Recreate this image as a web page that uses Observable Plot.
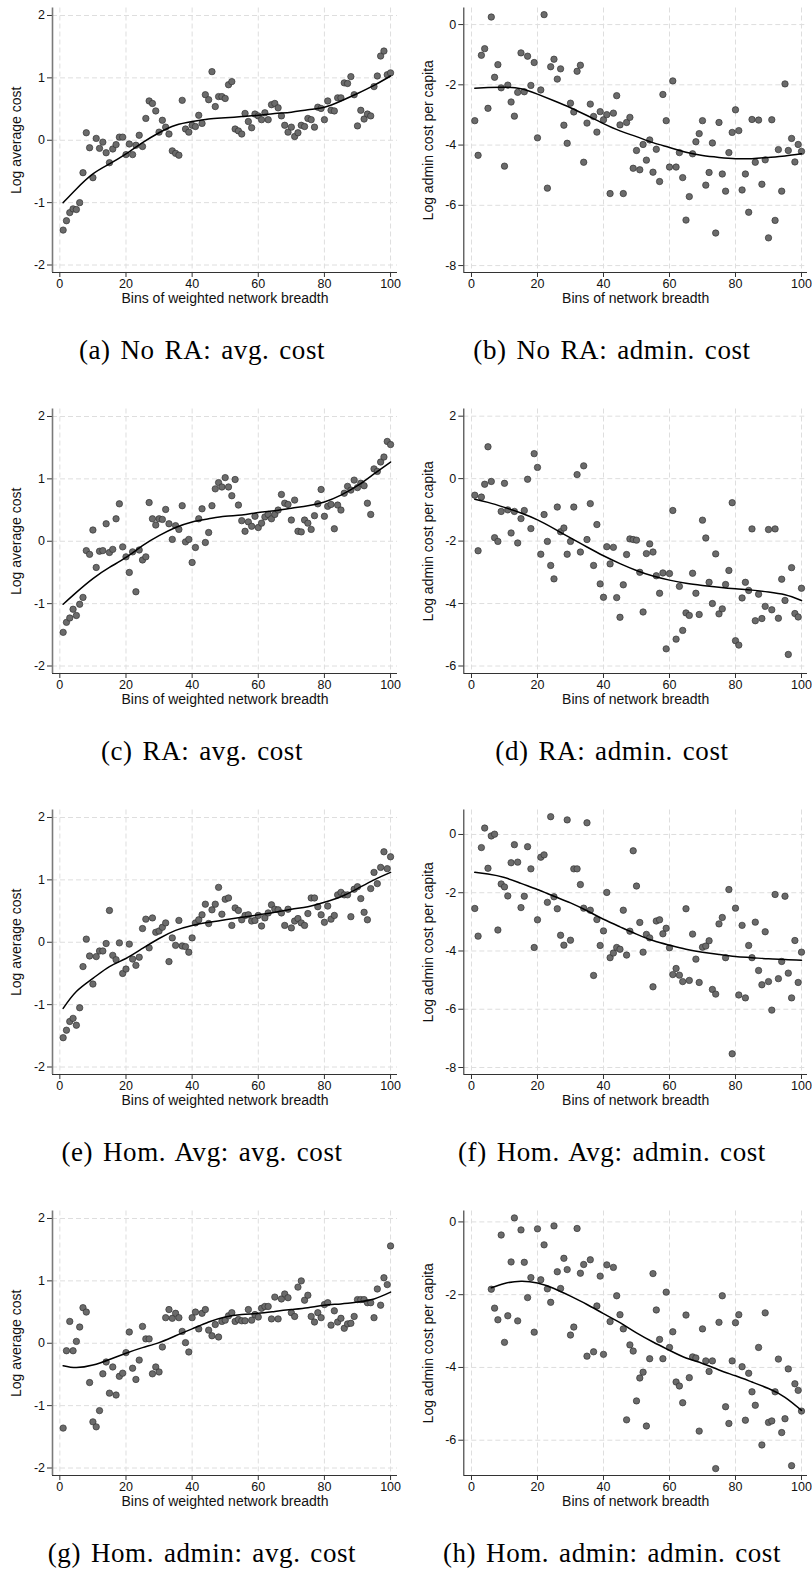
<!DOCTYPE html>
<html><head><meta charset="utf-8">
<script src="https://cdn.jsdelivr.net/npm/d3@7"></script>
<script src="https://cdn.jsdelivr.net/npm/@observablehq/plot@0.6"></script>
<style>
html,body{margin:0;padding:0;background:#fff}
body{width:812px;height:1573px;position:relative;overflow:hidden}
.panel{position:absolute;width:406px;height:320px}
.cap{position:absolute;font-family:"Liberation Serif","Times New Roman",serif;font-size:27px;color:#000;white-space:nowrap;transform:translate(-50%,-50%);letter-spacing:0.6px;word-spacing:2.5px;line-height:1}
</style></head><body>
<script>
// bins (categories)
const bins = d3.range(1, 101);
const binsH = d3.range(6, 101);
const fitX = [1,5,10,15,20,25,30,35,40,45,50,55,60,65,70,75,80,85,90,95,100];
const fitXH = [6,10,15,20,25,30,35,40,45,50,55,60,65,70,75,80,85,90,95,100];
const xTicks = [0,20,40,60,80,100];

// (a) No RA: avg. cost
const aY = [-1.44,-1.29,-1.16,-1.10,-1.11,-1.00,-0.52,0.12,-0.12,-0.60,
0.03,-0.13,-0.03,-0.20,-0.36,-0.14,-0.07,0.05,0.05,-0.23,
-0.06,-0.23,-0.08,0.08,-0.10,0.35,0.63,0.59,0.47,0.13,
0.32,0.21,0.10,-0.17,-0.21,-0.24,0.64,0.18,0.13,0.24,
0.22,0.40,0.27,0.73,0.65,1.10,0.54,0.70,0.70,0.67,
0.89,0.94,0.18,0.15,0.10,0.43,0.30,0.20,0.42,0.39,
0.33,0.44,0.33,0.57,0.59,0.52,0.39,0.24,0.13,0.21,
0.06,0.12,0.24,0.22,0.35,0.33,0.21,0.53,0.51,0.33,
0.63,0.48,0.47,0.68,0.68,0.92,0.91,1.02,0.73,0.23,
0.48,0.34,0.42,0.39,0.86,1.03,1.35,1.43,1.05,1.08];
const aFit = [-1.00,-0.78,-0.54,-0.38,-0.22,-0.04,0.12,0.24,0.30,0.34,0.36,0.38,0.40,0.43,0.45,0.49,0.53,0.63,0.75,0.88,1.03];

// (b) No RA: admin. cost
const bY = [-3.19,-4.34,-1.02,-0.80,-2.78,0.25,-1.75,-1.33,-2.10,-4.70,
-2.01,-2.57,-3.04,-2.25,-0.94,-2.23,-1.05,-2.02,-1.26,-3.76,
-2.17,0.33,-5.43,-1.40,-1.15,-1.81,-1.47,-3.34,-3.94,-2.61,
-2.90,-1.55,-1.35,-4.57,-3.27,-2.64,-3.05,-3.57,-2.89,-3.16,
-2.99,-5.61,-2.94,-2.36,-3.33,-5.61,-3.25,-3.08,-4.77,-4.18,
-4.82,-3.98,-4.50,-3.83,-4.90,-4.14,-5.21,-2.32,-3.19,-4.73,
-1.87,-4.73,-4.25,-5.08,-6.49,-5.71,-4.29,-3.89,-3.62,-3.19,
-5.33,-4.91,-3.93,-6.92,-3.25,-4.96,-5.53,-4.25,-3.58,-2.83,
-3.52,-5.49,-4.96,-6.23,-3.15,-4.57,-3.17,-5.30,-4.49,-7.08,
-3.16,-6.50,-4.15,-5.53,-1.97,-4.18,-3.78,-4.56,-3.98,-4.21];
const bFit = [-2.11,-2.09,-2.08,-2.13,-2.31,-2.53,-2.76,-3.02,-3.29,-3.53,-3.72,-3.92,-4.08,-4.24,-4.35,-4.41,-4.45,-4.45,-4.41,-4.36,-4.29];

// (c) RA: avg. cost
const cY = [-1.46,-1.30,-1.23,-1.09,-1.19,-1.01,-0.90,-0.15,-0.21,0.18,
-0.42,-0.16,-0.15,0.28,-0.18,-0.13,0.36,0.60,-0.09,-0.25,
-0.50,-0.17,-0.81,-0.14,-0.30,-0.25,0.62,0.36,0.26,0.36,
0.35,0.51,0.28,0.03,0.25,0.19,0.57,-0.01,0.03,-0.34,
-0.10,0.36,0.52,-0.02,0.14,0.57,0.84,0.94,0.87,1.02,
0.87,0.73,0.99,0.58,0.33,0.16,0.31,0.24,0.40,0.22,
0.29,0.39,0.43,0.36,0.43,0.50,0.75,0.61,0.59,0.34,
0.66,0.16,0.15,0.34,0.29,0.19,0.41,0.60,0.83,0.40,
0.56,0.59,0.20,0.58,0.50,0.77,0.88,0.82,0.98,0.86,
0.93,0.89,0.61,0.43,1.16,1.12,1.27,1.35,1.60,1.55];
const cFit = [-1.01,-0.82,-0.60,-0.42,-0.26,-0.07,0.09,0.22,0.31,0.36,0.40,0.42,0.46,0.49,0.53,0.57,0.63,0.74,0.89,1.08,1.27];

// (d) RA: admin. cost
const dY = [-0.53,-2.31,-0.59,-0.18,1.02,-0.09,-1.89,-2.01,-1.05,-0.15,
-1.00,-1.74,-1.05,-2.06,-1.28,-1.02,-0.02,-1.60,0.80,0.36,
-2.42,-1.15,-2.01,-2.78,-3.21,-0.91,-1.70,-1.58,-2.42,-2.01,
-0.91,0.13,-2.35,0.41,-1.95,-0.80,-2.78,-1.47,-3.37,-3.80,
-2.18,-2.73,-2.20,-3.81,-4.44,-3.40,-2.43,-1.93,-1.95,-1.97,
-3.00,-4.27,-2.40,-2.09,-2.35,-3.11,-3.67,-3.02,-5.45,-3.04,
-1.02,-5.14,-3.45,-4.86,-4.30,-4.38,-3.03,-3.67,-4.35,-1.33,
-1.90,-3.32,-4.00,-2.41,-4.33,-4.17,-3.39,-2.94,-0.77,-5.19,
-5.33,-3.82,-3.32,-3.58,-1.61,-4.55,-3.70,-4.48,-4.09,-1.63,
-4.20,-1.61,-4.47,-3.22,-3.90,-5.63,-2.85,-4.32,-4.43,-3.51];
const dFit = [-0.66,-0.76,-0.92,-1.10,-1.32,-1.60,-1.90,-2.19,-2.47,-2.72,-2.94,-3.12,-3.25,-3.35,-3.42,-3.48,-3.53,-3.57,-3.63,-3.72,-3.90];

// (e) Hom. Avg: avg. cost
const eY = [-1.53,-1.41,-1.27,-1.22,-1.33,-1.05,-0.39,0.05,-0.22,-0.67,
-0.23,-0.14,-0.14,-0.02,0.51,-0.21,-0.28,-0.01,-0.50,-0.43,
-0.03,-0.27,-0.37,-0.24,0.22,0.37,-0.09,0.39,0.16,0.18,
0.24,0.31,-0.31,0.07,-0.05,0.35,-0.06,-0.07,-0.16,0.07,
0.31,0.36,0.44,0.61,0.30,0.52,0.61,0.88,0.45,0.69,
0.71,0.27,0.55,0.51,0.36,0.43,0.44,0.34,0.35,0.43,
0.26,0.39,0.47,0.60,0.53,0.52,0.47,0.27,0.53,0.23,
0.34,0.38,0.31,0.27,0.46,0.71,0.71,0.57,0.44,0.32,
0.58,0.37,0.43,0.76,0.80,0.76,0.76,0.41,0.85,0.89,
0.70,0.48,0.36,0.86,1.12,0.94,1.20,1.45,1.18,1.37];
const eFit = [-1.06,-0.79,-0.58,-0.39,-0.26,-0.10,0.06,0.19,0.27,0.32,0.36,0.40,0.44,0.48,0.53,0.57,0.64,0.73,0.86,1.00,1.12];

// (f) Hom. Avg: admin. cost
const fY = [-2.54,-3.49,-0.45,0.22,-1.16,-0.05,0.01,-3.28,-1.70,-1.80,
-2.11,-0.97,-0.35,-0.95,-2.51,-2.12,-0.42,-1.18,-3.88,-2.93,
-0.78,-0.70,-2.33,0.61,-2.14,-2.55,-3.46,-3.80,0.50,-3.63,
-1.18,-1.18,-1.72,-2.53,0.40,-2.60,-4.84,-2.92,-3.81,-3.31,
-1.99,-4.23,-4.07,-3.88,-3.94,-2.60,-4.14,-3.32,-0.56,-1.77,
-3.02,-4.04,-3.43,-3.55,-5.23,-2.97,-2.93,-3.41,-3.22,-3.89,
-4.81,-4.60,-4.83,-5.05,-2.55,-5.01,-3.42,-4.28,-5.08,-3.87,
-3.83,-3.65,-5.32,-5.48,-3.07,-2.85,-4.23,-1.89,-7.53,-2.53,
-5.51,-3.12,-5.61,-3.81,-4.23,-3.01,-4.67,-5.16,-3.34,-5.05,
-6.03,-2.06,-4.95,-4.36,-2.12,-4.76,-5.61,-3.64,-5.08,-4.04];
const fFit = [-1.30,-1.36,-1.48,-1.68,-1.89,-2.12,-2.35,-2.62,-2.91,-3.17,-3.42,-3.64,-3.80,-3.94,-4.04,-4.12,-4.19,-4.23,-4.27,-4.29,-4.32];

// (g) Hom. admin: avg. cost
const gY = [-1.36,-0.12,0.35,-0.12,0.03,0.26,0.57,0.50,-0.63,-1.26,
-1.34,-1.08,-0.49,-0.30,-0.80,-0.38,-0.83,-0.53,-0.48,-0.15,
0.18,-0.40,-0.58,-0.27,0.27,0.07,0.07,-0.49,-0.38,-0.46,
-0.06,0.41,0.54,0.40,0.48,0.41,0.19,0.01,-0.14,0.41,
0.50,0.23,0.48,0.54,0.21,0.12,0.30,0.10,0.35,0.37,
0.44,0.49,0.35,0.38,0.36,0.36,0.54,0.37,0.46,0.42,
0.56,0.59,0.59,0.39,0.74,0.39,0.71,0.79,0.73,0.49,
0.43,0.90,1.00,0.69,0.77,0.43,0.34,0.49,0.41,0.62,
0.65,0.29,0.52,0.34,0.40,0.24,0.31,0.32,0.43,0.70,
0.70,0.70,0.65,0.65,0.41,0.87,0.61,1.05,0.94,1.56];
const gFit = [-0.36,-0.39,-0.35,-0.26,-0.16,-0.07,0.01,0.12,0.23,0.34,0.42,0.46,0.48,0.51,0.54,0.57,0.61,0.63,0.66,0.71,0.82];

// (h) Hom. admin: admin. cost (bins 6..100)
const hY = [-1.85,-2.37,-2.69,-0.36,-3.31,-2.58,-1.10,0.11,-2.72,-0.22,
-1.11,-2.08,-1.53,-3.03,-0.19,-1.59,-0.63,-1.84,-2.21,-0.11,
-1.37,-1.83,-1.00,-1.31,-3.11,-2.89,-0.18,-1.41,-1.17,-3.69,
-1.04,-3.57,-2.31,-1.49,-3.64,-1.18,-2.74,-1.25,-2.03,-2.55,
-2.94,-5.44,-3.38,-3.55,-4.92,-4.29,-4.13,-5.61,-3.76,-1.42,
-2.42,-3.23,-3.76,-1.93,-3.45,-3.02,-4.40,-4.51,-4.97,-2.56,
-4.28,-3.71,-3.74,-5.75,-2.94,-3.82,-4.11,-3.82,-6.78,-2.76,
-2.03,-5.08,-5.54,-3.82,-2.77,-2.55,-3.98,-5.45,-4.16,-4.67,
-5.04,-3.45,-6.13,-2.50,-5.51,-5.47,-4.67,-3.77,-5.79,-5.41,
-4.04,-6.70,-4.45,-4.63,-5.20];
const hFit = [-1.81,-1.69,-1.63,-1.68,-1.83,-2.04,-2.27,-2.52,-2.77,-3.05,-3.30,-3.53,-3.74,-3.89,-4.07,-4.23,-4.40,-4.58,-4.82,-5.18];

// tick labels
const avgTicks = [-2,-1,0,1,2];
const adminTicks8 = [-8,-6,-4,-2,0];
const adminTicksD = [-6,-4,-2,0,2];
const adminTicksH = [-6,-4,-2,0];

const captions = ["(a) No RA: avg. cost","(b) No RA: admin. cost","(c) RA: avg. cost","(d) RA: admin. cost",
  "(e) Hom. Avg: avg. cost","(f) Hom. Avg: admin. cost","(g) Hom. admin: avg. cost","(h) Hom. admin: admin. cost"];
const xTitles = ["Bins of weighted network breadth","Bins of network breadth"];
const yTitles = ["Log average cost","Log admin cost per capita"];

const panels = [
  {x: bins, y: aY, fx: fitX, fy: aFit, ticks: avgTicks, dom: [-2.12, 2.12]},
  {x: bins, y: bY, fx: fitX, fy: bFit, ticks: adminTicks8, dom: [-8.23, 0.55]},
  {x: bins, y: cY, fx: fitX, fy: cFit, ticks: avgTicks, dom: [-2.12, 2.12]},
  {x: bins, y: dY, fx: fitX, fy: dFit, ticks: adminTicksD, dom: [-6.24, 2.23]},
  {x: bins, y: eY, fx: fitX, fy: eFit, ticks: avgTicks, dom: [-2.12, 2.12]},
  {x: bins, y: fY, fx: fitX, fy: fFit, ticks: adminTicks8, dom: [-8.24, 0.84]},
  {x: bins, y: gY, fx: fitX, fy: gFit, ticks: avgTicks, dom: [-2.12, 2.12]},
  {x: binsH, y: hY, fx: fitXH, fy: hFit, ticks: adminTicksH, dom: [-6.97, 0.30]}
];

const fmt = d => String(d);
const rowH = 401.1;
panels.forEach((p, i) => {
  const col = i % 2, row = Math.floor(i / 2);
  const left = col === 0;
  const xDom = left ? [-2.22, 102.1] : [-2.33, 101.82];
  const pts = p.x.map((x, k) => ({x, y: p.y[k]}));
  const fit = p.fx.map((x, k) => ({x, y: p.fy[k]}));
  const chart = Plot.plot({
    width: 406, height: 320,
    marginLeft: left ? 52 : 57.3, marginRight: left ? 9 : 5,
    marginTop: 7.5, marginBottom: 48,
    style: {fontFamily: "'Liberation Sans', Arial, sans-serif", background: "transparent", color: "#111", overflow: "visible"},
    x: {domain: xDom},
    y: {domain: p.dom},
    marks: [
      Plot.gridX(xTicks, {stroke: "#dedede", strokeOpacity: 1, strokeWidth: 1, strokeDasharray: "5,3"}),
      Plot.gridY(p.ticks, {stroke: "#dedede", strokeOpacity: 1, strokeWidth: 1, strokeDasharray: "5,3"}),
      Plot.axisX(xTicks, {tickSize: 5, tickPadding: 2, fontSize: 12.5, label: null, stroke: "#333", tickFormat: fmt}),
      Plot.axisY(p.ticks, {tickSize: 5, tickPadding: 2.5, fontSize: 12.5, label: null, stroke: "#333", tickFormat: fmt}),
      Plot.ruleX([xDom[0]], {stroke: left ? "#7a7a7a" : "#333", strokeWidth: left ? 1.6 : 1.1}),
      Plot.ruleY([p.dom[0]], {stroke: "#333", strokeWidth: 1.1}),
      Plot.dot(pts, {x: "x", y: "y", r: 3.2, fill: "#6b6b6b", stroke: "#333", strokeWidth: 0.7}),
      Plot.line(fit, {x: "x", y: "y", curve: "natural", stroke: "#000", strokeWidth: 1.5}),
      Plot.text([xTitles[col]], {frameAnchor: "bottom", dy: 30, fontSize: 14, fill: "#111"}),
      Plot.text([yTitles[col]], {frameAnchor: "left", textAnchor: "middle", rotate: -90, dx: -35.5, fontSize: 14, fill: "#111"})
    ]
  });
  const wrap = document.createElement("div");
  wrap.className = "panel";
  wrap.style.left = (col * 406) + "px";
  wrap.style.top = (row * rowH) + "px";
  wrap.appendChild(chart);
  document.body.appendChild(wrap);
  const cap = document.createElement("div");
  cap.className = "cap";
  cap.textContent = captions[i];
  cap.style.left = (left ? 202 : 612) + "px";
  cap.style.top = (row * rowH + 350) + "px";
  document.body.appendChild(cap);
});
</script>
</body></html>
